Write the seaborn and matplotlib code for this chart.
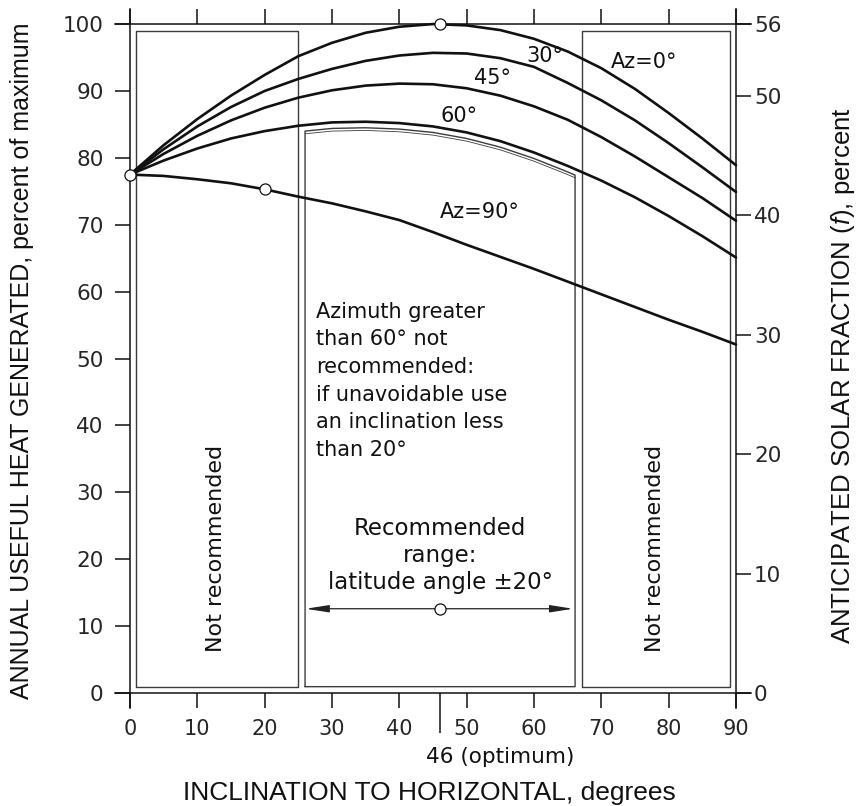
import numpy as np
import pandas as pd
import matplotlib
matplotlib.use("Agg")
import matplotlib.pyplot as plt
import seaborn as sns
from matplotlib import font_manager as fm

# ---------------- data ----------------
inclination = [0, 5, 10, 15, 20, 25, 30, 35, 40, 45, 50, 55, 60, 65, 70, 75, 80, 85, 90]
heat_az0 = [77.5, 81.9, 85.8, 89.3, 92.4, 95.2, 97.2, 98.7, 99.6, 100.0, 99.8, 99.1, 97.8, 95.9, 93.4, 90.3, 86.7, 82.9, 78.9]
heat_az30 = [77.5, 81.3, 84.7, 87.6, 90.0, 91.8, 93.3, 94.5, 95.3, 95.7, 95.6, 94.9, 93.6, 91.2, 88.6, 85.6, 82.2, 78.6, 74.9]
heat_az45 = [77.5, 80.6, 83.3, 85.6, 87.5, 89.0, 90.1, 90.8, 91.1, 91.0, 90.4, 89.3, 87.7, 85.7, 83.1, 80.2, 77.1, 74.0, 70.6]
heat_az60 = [77.5, 79.6, 81.4, 82.9, 84.0, 84.8, 85.3, 85.4, 85.2, 84.7, 83.8, 82.5, 80.8, 78.8, 76.6, 74.1, 71.3, 68.3, 65.1]
heat_az90 = [77.5, 77.3, 76.8, 76.2, 75.3, 74.2, 73.2, 72.0, 70.7, 68.9, 67.0, 65.2, 63.4, 61.5, 59.6, 57.7, 55.8, 54.0, 52.1]
azimuths = ["Az=0°", "30°", "45°", "60°", "Az=90°"]
curve_label_x = [76.3, 61.6, 53.9, 48.9, 52.0]
curve_label_y = [94.4, 95.2, 91.9, 86.3, 71.9]

x_ticks = [0, 10, 20, 30, 40, 50, 60, 70, 80, 90]
y_ticks = [0, 10, 20, 30, 40, 50, 60, 70, 80, 90, 100]
f_ticks = [0, 10, 20, 30, 40, 50, 56]
f_per_heat = 0.56          # solar fraction (%) per % of maximum heat
optimum = 46
marked_x = [0, 20, 46]
marked_y = [77.5, 75.3, 100.0]
range_low, range_high = 26.0, 66.1      # recommended range (latitude +-20)
range_level = 12.6
box_left = [0.9, 25.0]
box_right = [67.1, 89.1]
box_bottom, box_top = 0.95, 99.0
mid_box_gap = 0.9

note_lines = ["Azimuth greater", "than 60° not", "recommended:",
              "if unavoidable use", "an inclination less", "than 20°"]
rec_lines = ["Recommended", "range:", "latitude angle ±20°"]

# ---------------- fonts ----------------
def has_font(name):
    try:
        fm.findfont(fm.FontProperties(family=name), fallback_to_default=False)
        return True
    except Exception:
        return False

sns.set_style("ticks")
NARROW = "Liberation Sans Narrow" if has_font("Liberation Sans Narrow") else "Liberation Sans"
is_narrow = NARROW == "Liberation Sans Narrow"
plt.rcParams["font.family"] = ["DejaVu Sans"]
plt.rcParams["mathtext.fontset"] = "custom"
plt.rcParams["mathtext.it"] = NARROW + ":italic"
plt.rcParams["mathtext.rm"] = NARROW
INK = "#111111"
BOX = "#3c3c3c"

# ---------------- figure ----------------
fig = plt.figure(figsize=(8.57, 8.06), dpi=100)
ax = fig.add_axes([0.1344, 0.1219, 0.7417, 0.8665])
ax.set_xlim(-2.2, 92.2)
ax.set_ylim(-2.2, 102.2)

df = pd.DataFrame({
    "inclination": inclination * 5,
    "heat": heat_az0 + heat_az30 + heat_az45 + heat_az60 + heat_az90,
    "azimuth": sum([[a] * len(inclination) for a in azimuths], []),
})
sns.lineplot(data=df, x="inclination", y="heat", hue="azimuth",
             palette=[INK] * 5, linewidth=1.9, legend=False, ax=ax, zorder=4)

# boxes
for x0, x1 in (box_left, box_right):
    ax.plot([x0, x0, x1, x1, x0], [box_bottom, box_top, box_top, box_bottom, box_bottom],
            color=BOX, lw=1.0, zorder=2)
xs = np.linspace(range_low, range_high, 60)
top = np.interp(xs, inclination, heat_az60) - mid_box_gap
ax.plot(np.r_[range_low, xs, range_high, range_low],
        np.r_[box_bottom, top, box_bottom, box_bottom], color=BOX, lw=1.0, zorder=2)
ax.plot(xs, top - 0.4, color=BOX, lw=0.6, zorder=2)

# marked circles
ax.plot(marked_x, marked_y, ls="none", marker="o", ms=8, mfc="white", mec=INK,
        mew=0.9, zorder=6, clip_on=False)

# recommended range arrow
ax.annotate("", xy=(range_low + 0.1, range_level), xytext=(range_high - 0.3, range_level),
            arrowprops=dict(arrowstyle="<|-|>,head_length=1.4,head_width=0.22",
                            lw=0.9, color="#222222", shrinkA=0, shrinkB=0,
                            mutation_scale=10), zorder=3)
ax.plot([optimum], [range_level], ls="none", marker="o", ms=8, mfc="white",
        mec=INK, mew=0.9, zorder=6)

# labels on curves
for lab, lx, ly in zip(azimuths, curve_label_x, curve_label_y):
    ax.text(lx, ly, lab, ha="center", va="center", fontsize=15, color=INK, zorder=5)

for i, line in enumerate(note_lines):
    ax.text(27.6, 57.0 - i * 4.13, line, ha="left", va="center", fontsize=15, color=INK)
for i, line in enumerate(rec_lines):
    ax.text(46.1, 24.6 - i * 4.07, line, ha="center", va="center", fontsize=16.5, color=INK)
for cx in (12.7, 78.0):
    ax.text(cx, 21.6, "Not recommended", rotation=90, ha="center", va="center",
            fontsize=16, color=INK)

# ---------------- axes / spines ----------------
for side in ("left", "bottom", "top"):
    ax.spines[side].set_linewidth(1.1)
    ax.spines[side].set_color(INK)
ax.spines["left"].set_position(("data", 0))
ax.spines["bottom"].set_position(("data", 0))
ax.spines["top"].set_position(("data", 100))
ax.spines["right"].set_visible(False)

ax.set_xticks(x_ticks)
ax.set_xticklabels([str(t) for t in x_ticks])
ax.set_yticks(y_ticks)
ax.set_yticklabels([str(t) for t in y_ticks])
ax.set_xticks([optimum], minor=True)
ax.tick_params(axis="x", which="major", direction="out", length=11, width=1.1,
               top=True, bottom=True, labeltop=False, pad=8, color=INK)
ax.tick_params(axis="x", which="minor", direction="out", length=29, width=1.1,
               top=False, bottom=True, labelbottom=False, color=INK)
ax.tick_params(axis="y", which="major", direction="out", length=11, width=1.1,
               left=True, right=False, pad=8, color=INK)
for lbl in ax.get_xticklabels():
    lbl.set_fontsize(15)
for lbl in ax.get_yticklabels():
    lbl.set_fontsize(15.5)

ax.annotate("46 (optimum)", xy=(optimum, 0), xytext=(-10, -46), textcoords="offset points",
            ha="left", va="center", fontsize=15.5, color=INK, annotation_clip=False)

ax2 = ax.twinx()
ax2.set_ylim(ax.get_ylim())
for side in ("left", "bottom", "top"):
    ax2.spines[side].set_visible(False)
ax2.spines["right"].set_position(("data", 90))
ax2.spines["right"].set_linewidth(1.1)
ax2.spines["right"].set_color(INK)
ax2.set_yticks([f / f_per_heat for f in f_ticks])
ax2.set_yticklabels([str(f) for f in f_ticks])
ax2.tick_params(axis="y", direction="out", length=11, width=1.1, right=True, left=False,
                labelleft=False, labelright=True, pad=2, labelsize=15.5, color=INK)
ax2.grid(False)

ax.set_xlabel("INCLINATION TO HORIZONTAL, degrees", family=NARROW,
              fontsize=23 if is_narrow else 19, color=INK)
ax.xaxis.set_label_coords(0.495, -0.122)
ax.xaxis.label.set_va("center")
ax.set_ylabel("ANNUAL USEFUL HEAT GENERATED, percent of maximum", family="Liberation Sans",
              fontsize=18, color=INK)
ax.yaxis.set_label_coords(-0.147, 0.497)
ax.yaxis.label.set_va("center")
ax2.set_ylabel("ANTICIPATED SOLAR FRACTION ($\\mathit{f}$), percent", family=NARROW,
               fontsize=22 if is_narrow else 18.5, color=INK, rotation=90)
ax2.yaxis.set_label_coords(1.145, 0.475)
ax2.yaxis.label.set_va("center")

fig.savefig("out.png", dpi=100)
